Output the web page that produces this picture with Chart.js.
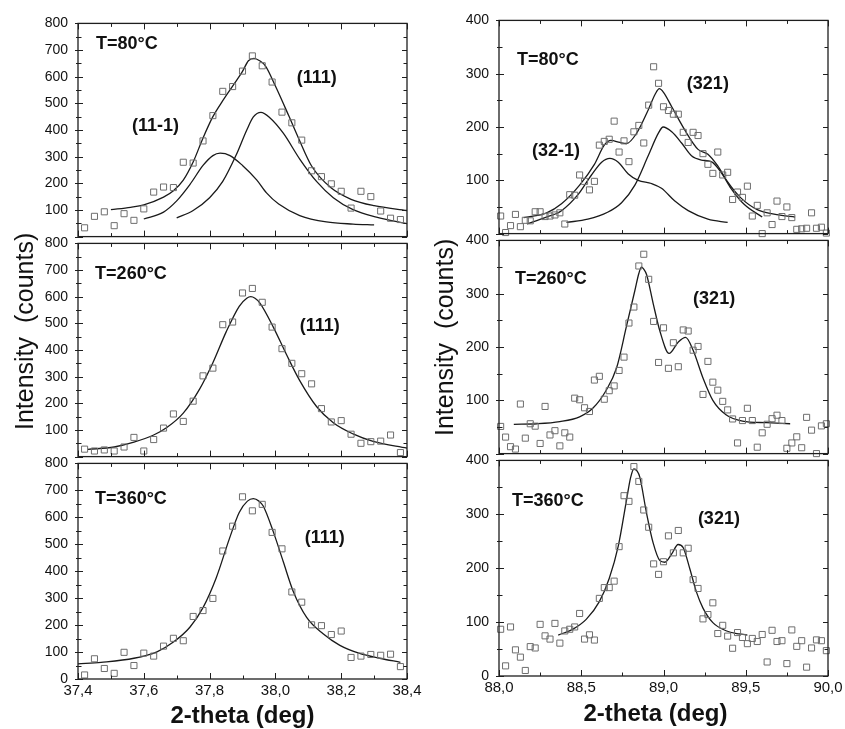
<!DOCTYPE html>
<html><head><meta charset="utf-8">
<script src="https://cdn.jsdelivr.net/npm/chart.js@4/dist/chart.umd.min.js"></script>
<style>
html,body{margin:0;padding:0;background:#fff;width:845px;height:729px;overflow:hidden;position:relative;}
canvas{position:absolute;}
</style></head><body>
<canvas id="tl"></canvas><canvas id="ml"></canvas><canvas id="bl"></canvas>
<canvas id="tr"></canvas><canvas id="mr"></canvas><canvas id="br"></canvas>
<script>
// ---------- data ----------
const xLeft = [37.42,37.45,37.48,37.51,37.54,37.57,37.60,37.63,37.66,37.69,37.72,37.75,37.78,37.81,37.84,37.87,37.90,37.93,37.96,37.99,38.02,38.05,38.08,38.11,38.14,38.17,38.20,38.23,38.26,38.29,38.32,38.35,38.38];
const yTL = [33,76,93,41,86,61,104,167,186,184,279,276,359,454,545,563,621,678,641,580,467,427,362,247,225,198,170,107,170,150,96,69,64];
const yML = [28,21,25,21,36,72,21,64,107,160,132,208,303,332,495,505,614,631,579,486,405,350,311,273,180,130,135,84,50,56,58,81,15];
const yBL = [15,75,39,21,99,50,96,85,122,151,142,232,254,299,475,567,676,624,648,544,483,323,285,201,198,165,178,80,85,91,88,92,46];

const xRight = [88.01,88.04,88.07,88.10,88.13,88.16,88.19,88.22,88.25,88.28,88.31,88.34,88.37,88.40,88.43,88.46,88.49,88.52,88.55,88.58,88.61,88.64,88.67,88.70,88.73,88.76,88.79,88.82,88.85,88.88,88.91,88.94,88.97,89.00,89.03,89.06,89.09,89.12,89.15,89.18,89.21,89.24,89.27,89.30,89.33,89.36,89.39,89.42,89.45,89.48,89.51,89.54,89.57,89.60,89.63,89.66,89.69,89.72,89.75,89.78,89.81,89.84,89.87,89.90,89.93,89.96,89.99];
const yTR = [33,2,15,36,13,25,24,41,41,32,33,35,39,18,73,72,110,98,82,98,166,173,177,211,153,174,135,191,203,170,241,313,282,238,231,224,224,190,171,190,184,150,130,113,153,110,115,64,78,68,89,33,53,0,39,17,61,32,50,30,8,9,10,39,10,12,1];
const yMR = [51,31,13,8.5,93,29,56,51.5,19,88.5,35,43,14.5,39,31,104,101,86,79,138,145,102,118,127,156,181,245,275,352,374,327,248,171,236,160,208,163,232,230,194,201,111,173,134,119,98,82,65,20,62,85,62,12,39,55,65.5,72,62,10,20,31.5,11,68,44,0,52,56];
const yBR = [86.7,18.8,91,48.5,35,10.3,54.5,52,95.8,74.5,68.5,97.6,61,83.6,86.7,91,116,68.5,76.4,66.7,144,164,164,176,240,334.5,324,388.5,361,308,276,208,188.5,212,260,228.5,270,228.5,237,178.8,162.4,106,114,135.8,78.8,94,74,51.5,80.6,71.5,60,69.7,64,77,26,84.8,64,65.5,23,85.5,55,65.5,16.4,52,67,65.5,47];

// fitted curves
const tlSumX = [37.50,37.56,37.60,37.66,37.69,37.72,37.75,37.78,37.81,37.84,37.87,37.90,37.918,37.935,37.952,37.97,38.00,38.04,38.07,38.11,38.17,38.23,38.30,38.40];
const tlSumY = [101,110,119,148,172,212,280,370,450,510,565,620,660,669,660,640,565,455,370,265,182,140,116,98];
const tl11mX = [37.60,37.66,37.70,37.74,37.78,37.81,37.832,37.862,37.90,37.943,37.973,38.01,38.074,38.155,38.236,38.30];
const tl11mY = [66,92,134,195,267,304,313,304,267,213,164,122,79,55,47,44];
const tl111X = [37.70,37.75,37.80,37.84,37.88,37.913,37.933,37.956,37.983,38.024,38.074,38.125,38.176,38.236,38.307,38.40];
const tl111Y = [70,98,146,207,304,400,449,466,446,388,291,207,146,101,73,49];

const mlFitX = [37.43,37.51,37.57,37.63,37.67,37.72,37.77,37.81,37.85,37.89,37.913,37.925,37.938,37.953,37.994,38.034,38.074,38.125,38.176,38.236,38.297,38.40];
const mlFitY = [27,36,54,81,109,163,254,352,467,564,594,600,594,576,485,382,285,188,127,85,57,32];

const blFitX = [37.40,37.47,37.57,37.64,37.69,37.74,37.78,37.82,37.86,37.89,37.915,37.933,37.95,37.963,37.994,38.024,38.054,38.095,38.145,38.196,38.256,38.317,38.38];
const blFitY = [56,62,77,101,137,192,265,375,520,618,660,669,660,642,545,435,326,229,168,125,95,77,62];

const trSumX = [88.15,88.29,88.38,88.49,88.58,88.64,88.68,88.735,88.775,88.836,88.907,88.95,88.975,89.00,89.05,89.13,89.21,89.27,89.33,89.39,89.47,89.57,89.70,89.80];
const trSumY = [30,39,56,91,130,166,175,171,169,188,232,262,272,265,238,194,158,149,127,97,67,45,35,31];
const tr32mX = [88.17,88.28,88.38,88.48,88.56,88.624,88.674,88.725,88.786,88.846,88.927,88.988,89.069,89.15,89.27,89.39];
const tr32mY = [18,30,43,73,109,134,141,134,112,100,94,85,61,43,27,21];
const tr321X = [88.41,88.54,88.66,88.745,88.826,88.907,88.968,88.998,89.05,89.11,89.17,89.23,89.29,89.35,89.41,89.49,89.60];
const tr321Y = [21,27,40,58,91,146,188,200,191,170,146,138,135,115,85,55,31];

const mrFitX = [88.09,88.23,88.37,88.49,88.57,88.65,88.715,88.775,88.826,88.85,88.866,88.88,88.897,88.937,88.978,89.034,89.089,89.134,89.18,89.24,89.30,89.38,89.48,89.625,89.77];
const mrFitY = [55,56,60,69,85,118,161,239,306,338,350,346,336,282,230,188,209,218,194,142,100,73,61,58,56];

const brFitX = [88.36,88.45,88.53,88.61,88.67,88.725,88.775,88.80,88.82,88.84,88.856,88.897,88.937,88.978,89.008,89.049,89.089,89.12,89.16,89.20,89.24,89.30,89.38,89.46,89.51];
const brFitY = [76,87,105,138,181,241,326,368,384,380,369,302,247,214,211,226,244,238,199,156,126,99,84,78,76];

const yTitleText = 'Intensity  (counts)';
const xTitleText = '2-theta (deg)';

// ---------- layout / styling ----------
const FONT = '"Liberation Sans", Arial, Helvetica, sans-serif';
const M = {l: 70, t: 15, r: 22, bHidden: 15, bAxis: 52, axisH: 20};

const leftX = {min: 37.4, max: 38.4, step: 0.2, minor: 0.1};
const rightX = {min: 88.0, max: 90.0, step: 0.5, minor: 0.25};

const panels = [
  {id:'tl', box:[78,20,407,240], xs:xLeft, ys:yTL, xr:leftX, ymax:800, bottom:false, hideZero:true,
   fits:[[tlSumX,tlSumY],[tl11mX,tl11mY],[tl111X,tl111Y]],
   labels:[{text:'T=80°C',x:37.455,y:705},{text:'(111)',x:38.065,y:576},{text:'(11-1)',x:37.564,y:398}]},
  {id:'ml', box:[78,240,407,460], xs:xLeft, ys:yML, xr:leftX, ymax:800, bottom:false, hideZero:true,
   fits:[[mlFitX,mlFitY]],
   labels:[{text:'T=260°C',x:37.452,y:666},{text:'(111)',x:38.074,y:470}],
   yTitle:{dx:-45, cy:88}},
  {id:'bl', box:[78,460,407,679], xs:xLeft, ys:yBL, xr:leftX, ymax:800, bottom:true, hideZero:false,
   fits:[[blFitX,blFitY]],
   labels:[{text:'T=360°C',x:37.452,y:648},{text:'(111)',x:38.089,y:505}],
   xTitle:{dx:0, base:44}},
  {id:'tr', box:[499,17,828,237], xs:xRight, ys:yTR, xr:rightX, ymax:400, bottom:false, hideZero:true,
   fits:[[trSumX,trSumY],[tr32mX,tr32mY],[tr321X,tr321Y]],
   labels:[{text:'T=80°C',x:88.109,y:317},{text:'(321)',x:89.142,y:272},{text:'(32-1)',x:88.20,y:146}]},
  {id:'mr', box:[499,237,828,457], xs:xRight, ys:yMR, xr:rightX, ymax:400, bottom:false, hideZero:true,
   fits:[[mrFitX,mrFitY]],
   labels:[{text:'T=260°C',x:88.097,y:319},{text:'(321)',x:89.18,y:280}],
   yTitle:{dx:-46, cy:97}},
  {id:'br', box:[499,457,828,676], xs:xRight, ys:yBR, xr:rightX, ymax:400, bottom:true, hideZero:false,
   fits:[[brFitX,brFitY]],
   labels:[{text:'T=360°C',x:88.079,y:315},{text:'(321)',x:89.209,y:282}],
   xTitle:{dx:-8, base:45}}
];

const decor = {
  id: 'decor',
  afterDraw(chart) {
    const p = chart.config.options.plugins.decor.panel;
    const {ctx, chartArea: a} = chart;
    const xs = chart.scales.x, ys = chart.scales.y;
    ctx.save();
    ctx.strokeStyle = '#1e1e1e';
    ctx.lineWidth = 1.3;
    ctx.strokeRect(a.left, a.top, a.right - a.left, a.bottom - a.top);
    ctx.lineWidth = 1;
    ctx.beginPath();
    const nx = Math.round((xs.max - xs.min) / p.xr.minor);
    for (let i = 0; i <= nx; i++) {
      const px = Math.round(xs.getPixelForValue(xs.min + i * p.xr.minor)) + 0.5;
      const len = i % 2 === 0 ? 6 : 3.5;
      ctx.moveTo(px, a.bottom); ctx.lineTo(px, a.bottom - len);
      ctx.moveTo(px, a.top); ctx.lineTo(px, a.top + len);
    }
    const ny = Math.round((ys.max - ys.min) / 50);
    for (let i = 0; i <= ny; i++) {
      const py = Math.round(ys.getPixelForValue(ys.min + i * 50)) + 0.5;
      const major = i % 2 === 0;
      const len = major ? 5 : 3.5;
      ctx.moveTo(a.left - (major ? 3 : 2), py); ctx.lineTo(a.left + len, py);
      ctx.moveTo(a.right, py); ctx.lineTo(a.right - len, py);
    }
    ctx.stroke();
    ctx.fillStyle = '#111';
    ctx.textAlign = 'left';
    ctx.textBaseline = 'alphabetic';
    ctx.font = 'bold 18px ' + FONT;
    for (const l of p.labels) ctx.fillText(l.text, xs.getPixelForValue(l.x), ys.getPixelForValue(l.y));
    if (p.yTitle) {
      ctx.save();
      ctx.translate(a.left + p.yTitle.dx, a.top + p.yTitle.cy);
      ctx.rotate(-Math.PI / 2);
      ctx.textAlign = 'center';
      ctx.font = '25px ' + FONT;
      ctx.fillText(yTitleText, 0, 0);
      ctx.restore();
    }
    if (p.xTitle) {
      ctx.textAlign = 'center';
      ctx.font = 'bold 24px ' + FONT;
      ctx.fillText(xTitleText, (a.left + a.right) / 2 + p.xTitle.dx, a.bottom + p.xTitle.base);
    }
    ctx.restore();
  }
};

for (const p of panels) {
  const cv = document.getElementById(p.id);
  const w = p.box[2] - p.box[0] + M.l + M.r;
  const h = p.box[3] - p.box[1] + M.t + (p.bottom ? M.bAxis : M.bHidden);
  cv.width = w; cv.height = h;
  cv.style.width = w + 'px'; cv.style.height = h + 'px';
  cv.style.left = (p.box[0] - M.l) + 'px';
  cv.style.top = (p.box[1] - M.t) + 'px';

  const datasets = [{
    data: p.xs.map((x, i) => ({x, y: p.ys[i]})),
    showLine: false, pointStyle: 'rect', pointRadius: 4.3, pointHoverRadius: 4.3,
    pointBorderWidth: 1, pointBorderColor: '#6e6e6e', pointBackgroundColor: 'rgba(255,255,255,0)',
    clip: false
  }];
  for (const [fx, fy] of p.fits) {
    datasets.push({
      data: fx.map((x, i) => ({x, y: fy[i]})),
      showLine: true, pointRadius: 0, pointHoverRadius: 0,
      borderColor: '#1a1a1a', borderWidth: 1.3, fill: false,
      cubicInterpolationMode: 'monotone', clip: false
    });
  }

  new Chart(cv, {
    type: 'scatter',
    data: {datasets},
    plugins: [decor],
    options: {
      responsive: false, animation: false, events: [],
      devicePixelRatio: 1,
      layout: {padding: {left: 0, top: M.t, right: M.r, bottom: p.bottom ? M.bAxis - M.axisH : M.bHidden}},
      plugins: {legend: {display: false}, tooltip: {enabled: false}, decor: {panel: p}},
      scales: {
        x: {
          type: 'linear', min: p.xr.min, max: p.xr.max, display: p.bottom,
          grid: {display: false, drawTicks: false}, border: {display: false},
          ticks: {stepSize: p.xr.step, padding: 3, color: '#111', font: {family: FONT, size: 15},
                  maxRotation: 0, autoSkip: false,
                  callback: v => v.toFixed(1).replace('.', ',')},
          afterFit: s => { if (p.bottom) s.height = M.axisH; }
        },
        y: {
          type: 'linear', min: 0, max: p.ymax,
          grid: {display: false, drawTicks: false}, border: {display: false},
          ticks: {stepSize: 100, padding: 10, color: '#111', font: {family: FONT, size: 14},
                  callback: v => (p.hideZero && v === 0) ? '' : String(v)},
          afterFit: s => { s.width = M.l; }
        }
      }
    }
  });
}
</script>
</body></html>
